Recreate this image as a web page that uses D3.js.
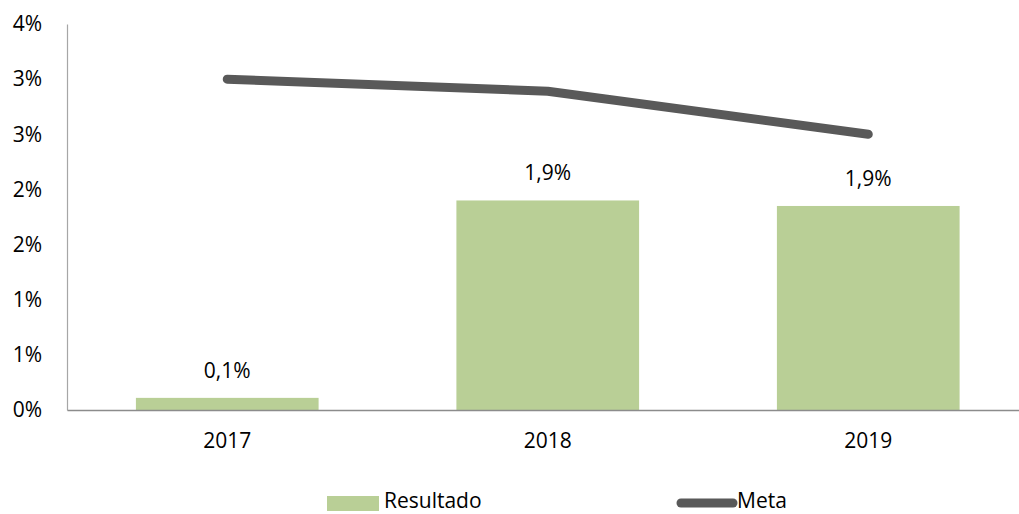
<!DOCTYPE html>
<html lang="pt">
<head>
  <meta charset="utf-8">
  <title>Resultado x Meta</title>
  <script src="https://cdn.jsdelivr.net/npm/d3@7"></script>
  <style>
    body { margin: 0; background: #fff; }
    text { font-family: "Open Sans", sans-serif; fill: #000; }
  </style>
</head>
<body>
  <script>
  // dados (em %)
  var anos = ["2017", "2018", "2019"];
  var resultado = [0.11, 1.9, 1.85];
  var meta = [3.0, 2.89, 2.5];
  var rotulos = ["0,1%", "1,9%", "1,9%"];
  var ticksY = [0, 0.5, 1, 1.5, 2, 2.5, 3, 3.5];

  var width = 1019, height = 514;
  var mLeft = 67, mRight = 1028.5, mTop = 24, mBottom = 410;
  var fonte = 21;

  var svg = d3.select("body").append("svg")
    .attr("width", width)
    .attr("height", height);

  var x = d3.scaleBand().domain(anos).range([mLeft, mRight]).paddingInner(0.43).paddingOuter(0.215);
  var y = d3.scaleLinear().domain([0, 3.5]).range([mBottom, mTop]);

  // eixo y
  var yAxis = svg.append("g")
    .attr("transform", `translate(${mLeft},0)`)
    .call(d3.axisLeft(y).tickValues(ticksY).tickSize(0).tickPadding(25)
      .tickFormat(d => Math.round(d + 0.0001) + "%"));
  yAxis.select(".domain").attr("stroke", "#a6a6a6").attr("stroke-width", 1.2);
  yAxis.selectAll("text").attr("font-size", fonte).style("font-family", "'Open Sans', sans-serif").attr("fill", "#000");

  // barras
  svg.append("g").selectAll("rect")
    .data(resultado)
    .enter().append("rect")
    .attr("x", (d, i) => x(anos[i]))
    .attr("width", x.bandwidth())
    .attr("y", d => y(d))
    .attr("height", d => y(0) - y(d))
    .attr("fill", "#b9cf96");

  // eixo x
  var xAxis = svg.append("g")
    .attr("transform", `translate(0,${mBottom})`)
    .call(d3.axisBottom(x).tickSize(0).tickPadding(23));
  xAxis.select(".domain").attr("stroke", "#8c8c8c").attr("stroke-width", 1.5);
  xAxis.selectAll("text").attr("font-size", fonte).style("font-family", "'Open Sans', sans-serif").attr("fill", "#000");

  // rótulos das barras
  svg.append("g").selectAll("text")
    .data(resultado)
    .enter().append("text")
    .attr("x", (d, i) => x(anos[i]) + x.bandwidth() / 2)
    .attr("y", d => y(d) - 20)
    .attr("text-anchor", "middle")
    .attr("font-size", fonte)
    .text((d, i) => rotulos[i]);

  // linha da meta
  var linha = d3.line()
    .x((d, i) => x(anos[i]) + x.bandwidth() / 2)
    .y(d => y(d));
  svg.append("path")
    .datum(meta)
    .attr("d", linha)
    .attr("fill", "none")
    .attr("stroke", "#595959")
    .attr("stroke-width", 9)
    .attr("stroke-linecap", "round")
    .attr("stroke-linejoin", "round");

  // legenda
  var leg = svg.append("g");
  leg.append("rect").attr("x", 327).attr("y", 496).attr("width", 52).attr("height", 15).attr("fill", "#b9cf96");
  leg.append("text").attr("x", 384).attr("y", 501).attr("dy", "0.35em").attr("font-size", fonte).text("Resultado");
  leg.append("line").attr("x1", 681).attr("x2", 733).attr("y1", 503).attr("y2", 503)
    .attr("stroke", "#595959").attr("stroke-width", 9).attr("stroke-linecap", "round");
  leg.append("text").attr("x", 737).attr("y", 501).attr("dy", "0.35em").attr("font-size", fonte).text("Meta");
  </script>
</body>
</html>
